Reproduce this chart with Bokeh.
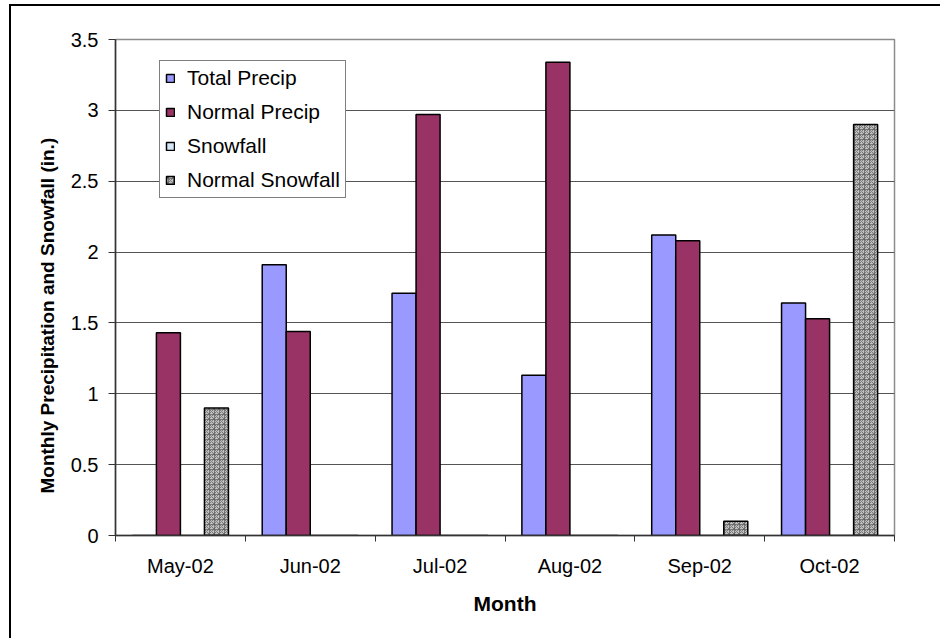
import numpy as np
from bokeh.plotting import figure
from bokeh.models import (FixedTicker, Legend, LegendItem, Range1d,
                          ColumnDataSource, Title)
from bokeh.embed import file_html
from bokeh.resources import INLINE

# Monthly values (inches)
months = ["May-02", "Jun-02", "Jul-02", "Aug-02", "Sep-02", "Oct-02"]
total_precip = [0.0, 1.91, 1.71, 1.13, 2.12, 1.64]
normal_precip = [1.43, 1.44, 2.97, 3.34, 2.08, 1.53]
snowfall = [0.0, 0.0, 0.0, 0.0, 0.0, 0.0]
normal_snowfall = [0.9, 0.0, 0.0, 0.0, 0.1, 2.9]
y_ticks = [0, 0.5, 1, 1.5, 2, 2.5, 3, 3.5]
y_tick_labels = ["0", "0.5", "1", "1.5", "2", "2.5", "3", "3.5"]

FONT = "Liberation Sans"

p = figure(
    width=931, height=634,
    x_range=Range1d(0, len(months)), y_range=Range1d(0, 3.5),
    output_backend="svg", toolbar_location=None,
    min_border_left=104, min_border_right=48,
    min_border_top=33, min_border_bottom=105,
    background_fill_color="white", border_fill_color="white",
)
p.margin = (4, 0, 0, 9)
p.styles = {"border-top": "2px solid black", "border-left": "2px solid black"}

p.outline_line_color = "#8c8c8c"
p.outline_line_width = 1.5

centers = np.arange(len(months)) + 0.5
bar_w = 0.185

series = [
    ("Total Precip", total_precip, dict(fill_color="#9999FF")),
    ("Normal Precip", normal_precip, dict(fill_color="#993366")),
    ("Snowfall", snowfall, dict(fill_color="#D4E8FA")),
    ("Normal Snowfall", normal_snowfall,
     dict(fill_color="#C0C0C0", hatch_pattern="criss_cross",
          hatch_color="#606060", hatch_scale=5, hatch_alpha=0.75, hatch_weight=1)),
]

items = []
for k, (name, vals, style) in enumerate(series):
    src = ColumnDataSource(dict(x=centers + (k - 1.5) * bar_w, top=vals))
    r = p.vbar(x="x", top="top", bottom=0, width=bar_w, source=src,
               line_color="black", line_width=1.5, **style)
    items.append(LegendItem(label=name, renderers=[r]))

# grid
p.xgrid.visible = False
p.ygrid.ticker = FixedTicker(ticks=y_ticks)
p.ygrid.grid_line_color = "#555555"
p.ygrid.grid_line_width = 1

# y axis
ya = p.yaxis[0]
ya.ticker = FixedTicker(ticks=y_ticks)
ya.major_label_overrides = {t: l for t, l in zip(y_ticks, y_tick_labels)}
ya.axis_line_color = "#333333"
ya.axis_line_width = 1.5
ya.major_tick_line_color = "#333333"
ya.major_tick_out = 7
ya.major_tick_in = 0
ya.minor_tick_line_color = None
ya.major_label_text_font = FONT
ya.major_label_text_font_size = "20px"
ya.major_label_text_color = "black"
ya.major_label_standoff = 10

# y axis title, starting a little above the frame's bottom edge
p.add_layout(Title(text="Monthly Precipitation and Snowfall (in.)", align="left",
                   offset=42, standoff=20, text_font=FONT, text_font_style="bold",
                   text_font_size="19px", text_color="black"), "left")

# x axis: labels centred in each month, tick marks on month boundaries
xa = p.xaxis[0]
xa.ticker = FixedTicker(ticks=list(centers), minor_ticks=list(range(len(months) + 1)))
xa.major_label_overrides = {float(c): m for c, m in zip(centers, months)}
xa.axis_line_color = "#333333"
xa.axis_line_width = 1.5
xa.major_tick_line_color = None
xa.major_tick_out = 6
xa.major_tick_in = 0
xa.minor_tick_line_color = "#333333"
xa.minor_tick_out = 6
xa.minor_tick_in = 0
xa.major_label_text_font = FONT
xa.major_label_text_font_size = "20px"
xa.major_label_text_color = "black"
xa.major_label_standoff = 13
xa.axis_label = "Month"
xa.axis_label_text_font = FONT
xa.axis_label_text_font_style = "bold"
xa.axis_label_text_font_size = "21px"
xa.axis_label_text_color = "black"
xa.axis_label_standoff = 12

legend = Legend(
    items=items, location=(44, 337),
    label_text_font=FONT, label_text_font_size="21px", label_text_color="black",
    glyph_width=10, glyph_height=10, label_standoff=12,
    label_height=22, spacing=10, padding=5, margin=0,
    border_line_color="black", border_line_width=1.5,
    background_fill_color="white", background_fill_alpha=1,
)
p.add_layout(legend)

open("out.html", "w").write(file_html(p, INLINE))
